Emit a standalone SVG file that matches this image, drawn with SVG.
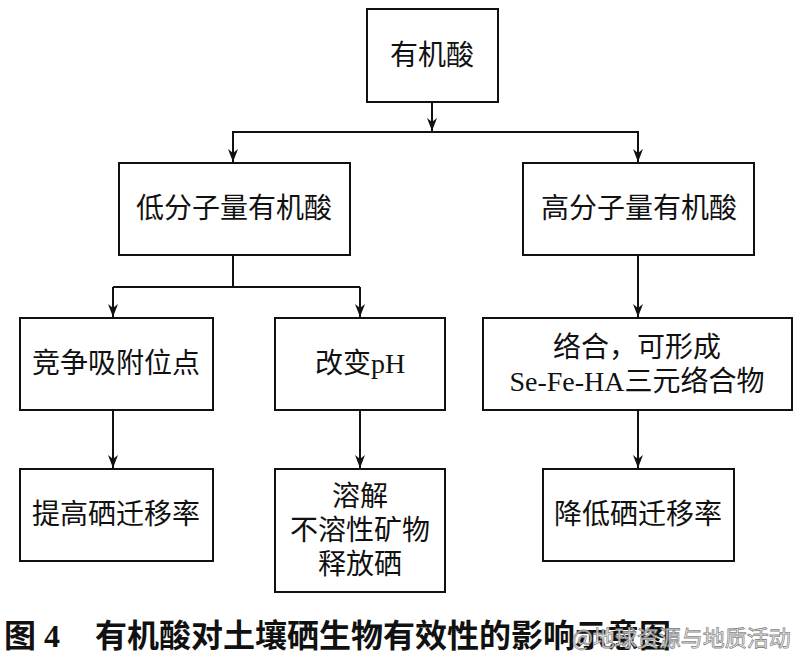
<svg xmlns="http://www.w3.org/2000/svg" width="797" height="666" viewBox="0 0 797 666">
<style>
.box{fill:#fff;stroke:#111;stroke-width:2}
.t{font-family:"Liberation Serif","Noto Sans CJK SC",serif;font-size:28px;fill:#111;text-anchor:middle;dominant-baseline:central}
.ln{fill:none;stroke:#111;stroke-width:2}
.cap{font-family:"Liberation Serif","Noto Sans CJK SC",serif;font-size:32px;font-weight:bold;fill:#111;dominant-baseline:central}
.wm{font-family:"Noto Sans CJK SC",sans-serif;font-size:22px;fill:#fff;fill-opacity:0.85;stroke:#888;stroke-width:0.8;dominant-baseline:central}
</style>
<defs>
<marker id="arr" markerUnits="userSpaceOnUse" markerWidth="14" markerHeight="11" refX="13" refY="5.5" orient="auto">
<path d="M0,0.5 L13,5.5 L0,10.5 L4,5.5 z" fill="#111"/>
</marker>
</defs>
<rect width="797" height="666" fill="#fff"/>
<g id="connectors">
<path class="ln" d="M432,102 V131" marker-end="url(#arr)"/>
<path class="ln" d="M233,162 V132 H638 V162" marker-end="url(#arr)"/>
<path class="ln" d="M233,132 V162" marker-end="url(#arr)"/>
<path class="ln" d="M233,255 V287" />
<path class="ln" d="M113,287 H360"/>
<path class="ln" d="M113,287 V317" marker-end="url(#arr)"/>
<path class="ln" d="M360,287 V317" marker-end="url(#arr)"/>
<path class="ln" d="M638,255 V317" marker-end="url(#arr)"/>
<path class="ln" d="M113,410 V468" marker-end="url(#arr)"/>
<path class="ln" d="M360,410 V468" marker-end="url(#arr)"/>
<path class="ln" d="M638,410 V468" marker-end="url(#arr)"/>
</g>
<g id="n-root"><rect class="box" x="367" y="9" width="131" height="93"/><text class="t" x="432" y="55">有机酸</text></g>
<g id="n-low"><rect class="box" x="119" y="163" width="231" height="92"/><text class="t" x="234" y="208">低分子量有机酸</text></g>
<g id="n-high"><rect class="box" x="523" y="163" width="231" height="92"/><text class="t" x="639" y="208">高分子量有机酸</text></g>
<g id="n-compete"><rect class="box" x="20" y="318" width="193" height="92"/><text class="t" x="116" y="363">竞争吸附位点</text></g>
<g id="n-ph"><rect class="box" x="275" y="318" width="170" height="92"/><text class="t" x="360" y="363">改变pH</text></g>
<g id="n-complex"><rect class="box" x="483" y="318" width="309" height="92"/><text class="t" x="637" y="347">络合，可形成</text><text class="t" x="637" y="381">Se-Fe-HA三元络合物</text></g>
<g id="n-raise"><rect class="box" x="20" y="469" width="193" height="92"/><text class="t" x="116" y="514">提高硒迁移率</text></g>
<g id="n-dissolve"><rect class="box" x="275" y="469" width="170" height="123"/><text class="t" x="360" y="496">溶解</text><text class="t" x="360" y="530">不溶性矿物</text><text class="t" x="360" y="564">释放硒</text></g>
<g id="n-lower"><rect class="box" x="543" y="469" width="191" height="92"/><text class="t" x="638" y="514">降低硒迁移率</text></g>
<g id="caption">
<text class="cap" x="4" y="636">图 4</text>
<text class="cap" x="95" y="636">有机酸对土壤硒生物有效性的影响示意图</text>
<text class="wm" x="572" y="636">@地球资源与地质活动</text>
</g>
</svg>
